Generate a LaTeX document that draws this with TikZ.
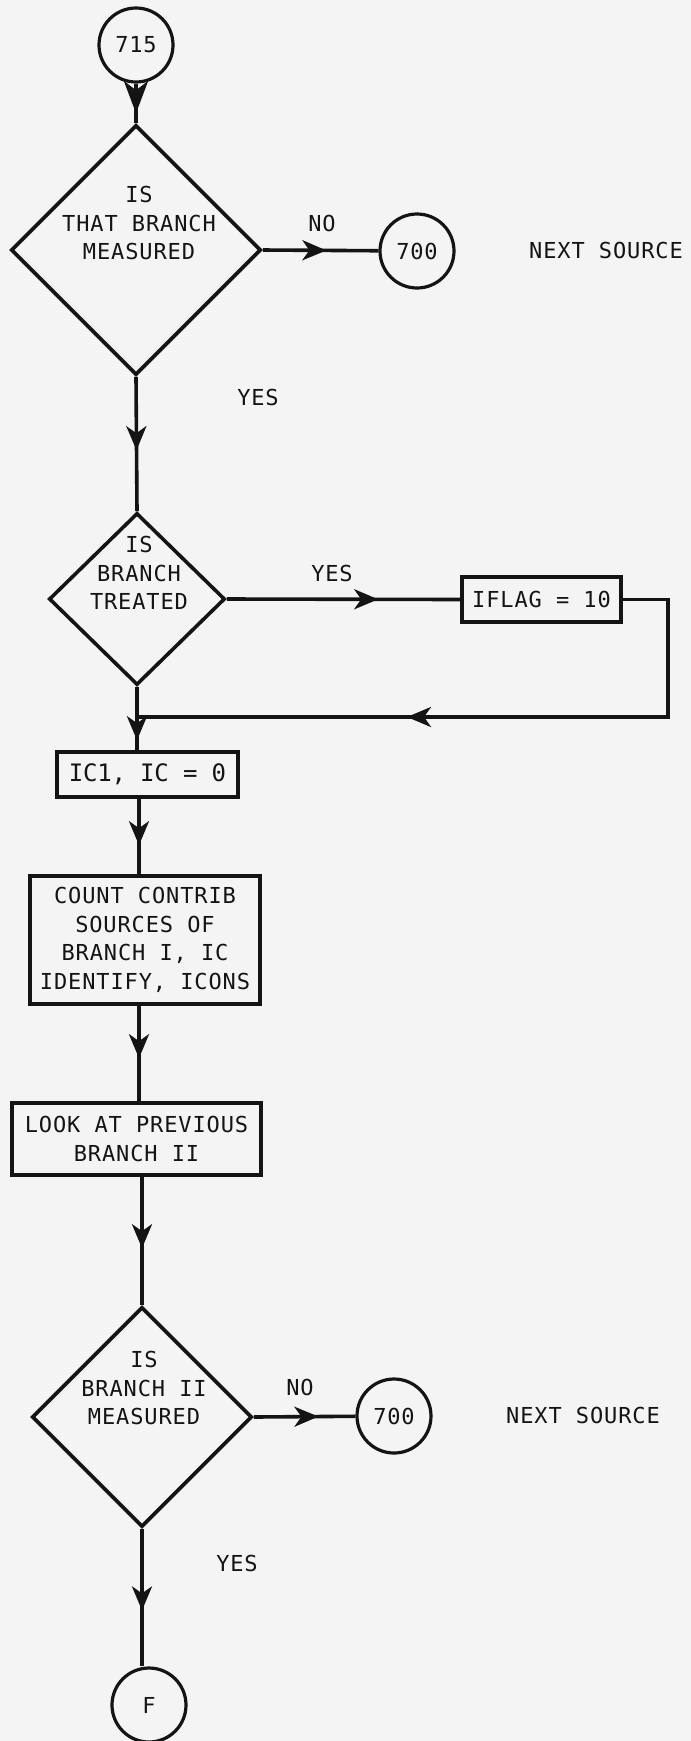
\documentclass[tikz,border=0pt]{standalone}
\usepackage{fontspec}
\newfontfamily\lf[LetterSpace=4]{DejaVu Sans Mono}
\newfontfamily\lfb[LetterSpace=-1]{DejaVu Sans Mono}
\usetikzlibrary{shapes.geometric,arrows.meta,decorations.markings}
\definecolor{bg}{RGB}{244,244,244}
\definecolor{ink}{RGB}{20,20,20}
\begin{document}
\begin{tikzpicture}[x=1pt,y=-1pt,
  line width=3.6pt, draw=ink,
  every node/.style={font=\lf\fontsize{22}{28.7}\selectfont, text=ink},
  conn/.style={circle, draw, line width=3.2pt, minimum size=74pt, inner sep=0pt},
  dia/.style={diamond, draw, inner sep=0pt, minimum width=#1, minimum height=#1},
  box/.style={rectangle, draw, inner sep=0pt, align=center},
  txt/.style={align=center, inner sep=0pt},
  arr/.style={postaction={decorate}, decoration={markings,
     mark=at position #1 with {\arrow{Stealth[length=24pt,width=20pt,inset=7pt]}}}},
  bigarr/.style={postaction={decorate}, decoration={markings,
     mark=at position #1 with {\arrow{Stealth[length=32pt,width=24pt,inset=9pt]}}}}
]
\fill[bg] (0,0) rectangle (691,1741);
\useasboundingbox (0,0) rectangle (691,1741);

% top part
\node[conn] (c715) at (136,45) {715};
\node[dia=250pt] (d1) at (136,250) {};
\node[txt] (t1) at (139,223) {IS\\THAT BRANCH\\MEASURED};
\node[txt] (no1) at (322,223) {NO};
\node[conn] (n700a) at (417,251) {700};
\node[txt] (ns1) at (606,250) {NEXT SOURCE};
\node[txt] (yes1) at (258,397) {YES};

% second decision
\node[diamond, draw, inner sep=0pt, minimum width=176pt, minimum height=172pt] (d2) at (137,599) {};
\node[txt] (t2) at (139,573) {IS\\BRANCH\\TREATED};
\node[txt] (yes2) at (332,573) {YES};
\node[box, minimum width=159pt, minimum height=45pt] (fl) at (541.5,599.5) {IFLAG = 10};
\coordinate (j) at (137,717);
\coordinate (rc) at (668,717);
\coordinate (m) at (139,0);

% boxes
\node[box, minimum width=181pt, minimum height=45pt, font=\lfb\fontsize{24}{28.7}\selectfont] (ic) at (147.5,774.5) {IC1, IC = 0};
\node[box, minimum width=230pt, minimum height=128pt] (b2) at (145,940) {COUNT CONTRIB\\SOURCES OF\\BRANCH I, IC\\IDENTIFY, ICONS};
\node[box, minimum width=249pt, minimum height=72pt] (b3) at (136.5,1139) {LOOK AT PREVIOUS\\BRANCH II};

% third decision
\node[dia=220pt] (d3) at (142,1417) {};
\node[txt] (t3) at (144,1388) {IS\\BRANCH II\\MEASURED};
\node[txt] (no2) at (300,1387) {NO};
\node[conn] (n700b) at (394,1416) {700};
\node[txt] (ns2) at (583,1415) {NEXT SOURCE};
\node[txt] (yes3) at (237,1563) {YES};
\node[conn] (cf) at (149,1705) {F};

% connectors
\draw[bigarr=-10pt] (c715) -- (d1.north);
\draw[arr=-61pt] (d1.south) -- (d2.north);
\draw[arr=-52pt] (d1.east) -- (n700a);
\draw[arr=-82pt] (d2.east) -- (fl.west);
\draw[arr=-270pt] (fl.east) -| (rc) -- (j);
\draw (d2.south) -- (j);
\draw[arr=-10pt] (j) -- (j |- ic.north);
\draw[arr=-29pt] (ic.south -| m) -- (b2.north -| m);
\draw[arr=-43pt] (b2.south -| m) -- (b3.north -| m);
\draw[arr=-57pt] (b3.south -| d3.north) -- (d3.north);
\draw[arr=-37pt] (d3.east) -- (n700b);
\draw[arr=-56pt] (d3.south) -- (d3.south |- cf.north);
\end{tikzpicture}
\end{document}
